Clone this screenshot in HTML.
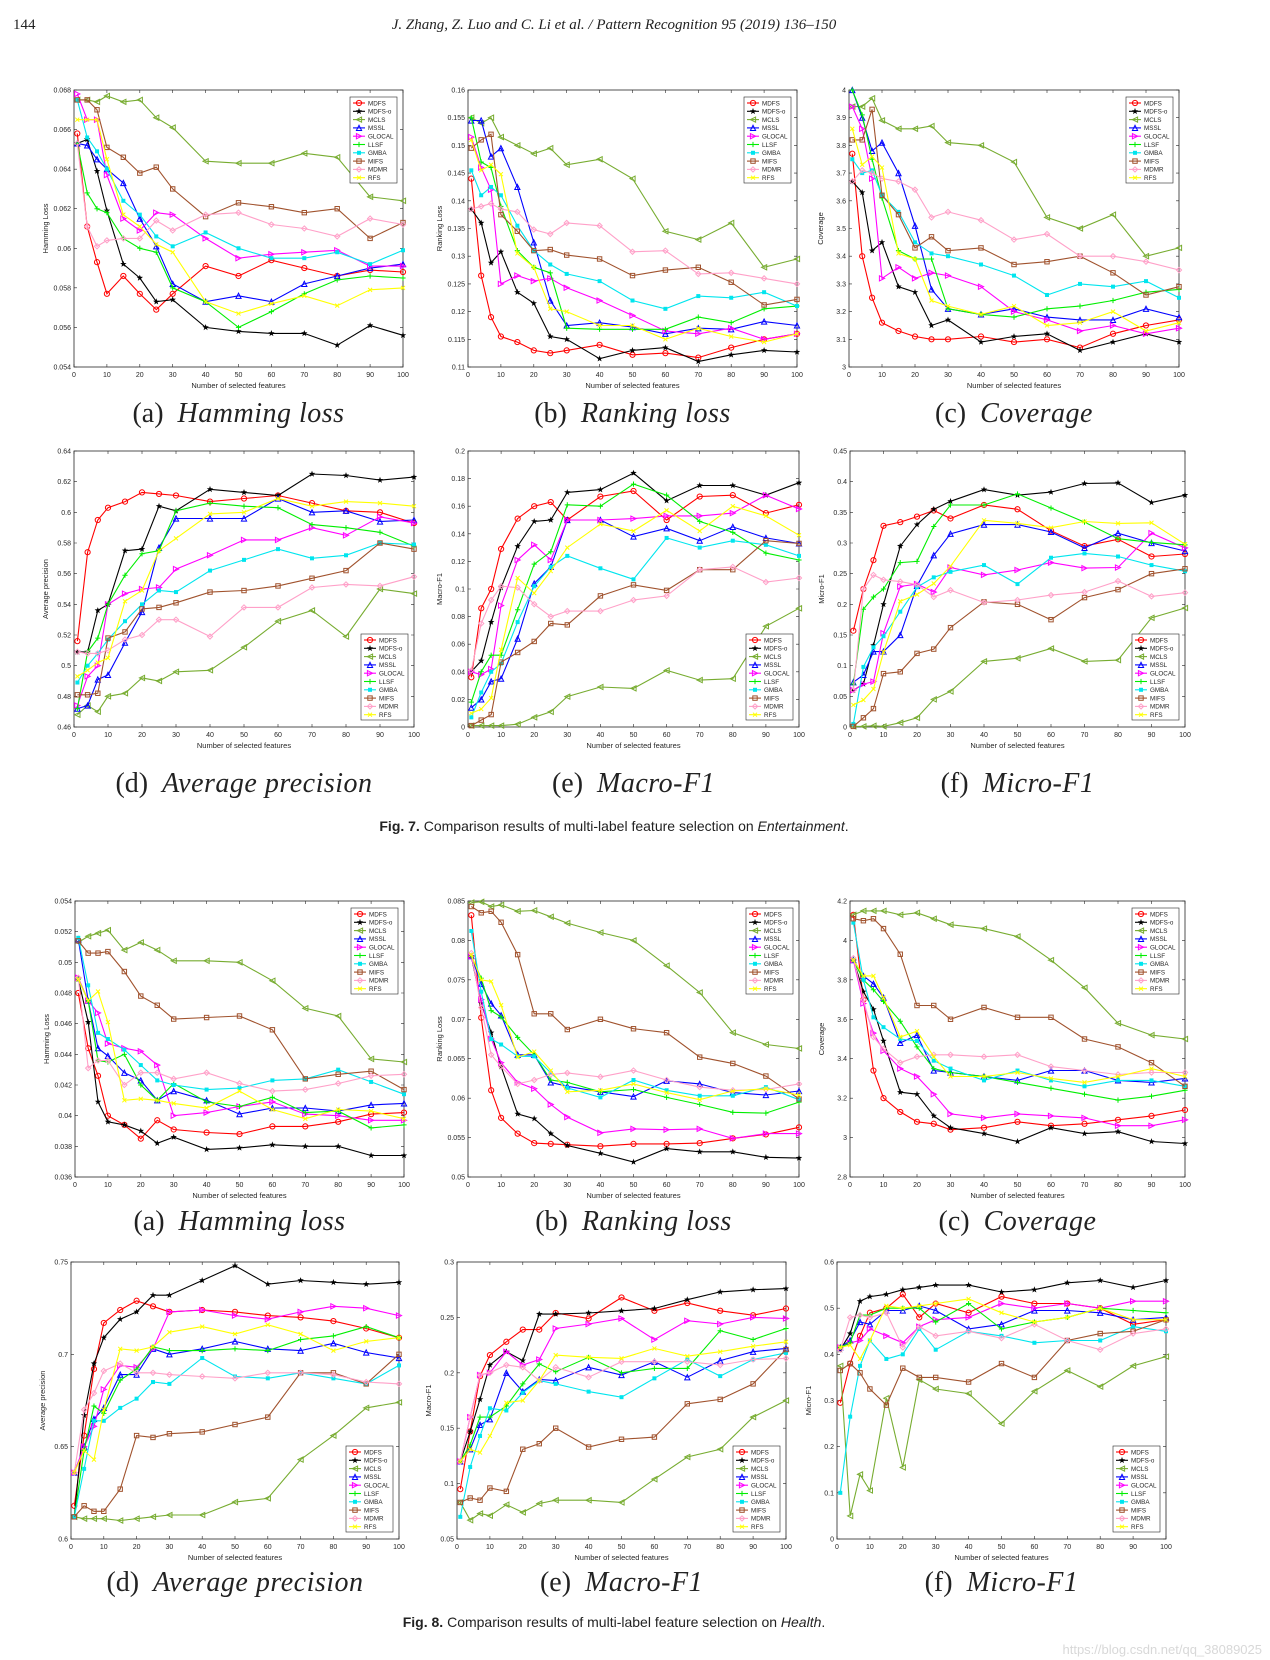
<!DOCTYPE html>
<html><head><meta charset="utf-8"><style>
html,body{margin:0;padding:0;background:#fff;}
svg{display:block;}
</style></head><body>
<svg id="page" width="1270" height="1660" viewBox="0 0 1270 1660" xmlns="http://www.w3.org/2000/svg">
<text x="13" y="29" font-family="Liberation Serif, serif" font-size="15" fill="#222">144</text>
<text x="614" y="29" text-anchor="middle" font-family="Liberation Serif, serif" font-style="italic" font-size="15" fill="#222">J. Zhang, Z. Luo and C. Li et al. / Pattern Recognition 95 (2019) 136–150</text>
<text x="614" y="831" text-anchor="middle" font-family="Liberation Sans, sans-serif" font-size="14" fill="#222"><tspan font-weight="bold">Fig. 7.</tspan>  Comparison results of multi-label feature selection on <tspan font-style="italic">Entertainment</tspan>.</text>
<text x="614" y="1627" text-anchor="middle" font-family="Liberation Sans, sans-serif" font-size="14" fill="#222"><tspan font-weight="bold">Fig. 8.</tspan>  Comparison results of multi-label feature selection on <tspan font-style="italic">Health</tspan>.</text>
<text x="1262" y="1654" text-anchor="end" font-family="Liberation Sans, sans-serif" font-size="13" fill="#d8d8d8">https://blog.csdn.net/qq_38089025</text>
</svg>
<script>
const xValues = [1,4,7,10,15,20,25,30,40,50,60,70,80,90,100];
const xTicks = [0,10,20,30,40,50,60,70,80,90,100];
const seriesNames = ["MDFS","MDFS-o","MCLS","MSSL","GLOCAL","LLSF","GMBA","MIFS","MDMR","RFS"];

const f7aTicks = [0.054,0.056,0.058,0.06,0.062,0.064,0.066,0.068];
const f7a = [
[.0658,.0611,.0593,.0577,.0586,.0577,.0569,.0577,.0591,.0586,.0594,.0590,.0586,.0589,.0588],
[.0653,.0655,.0639,.0619,.0592,.0585,.0573,.0574,.0560,.0558,.0557,.0557,.0551,.0561,.0556],
[.0675,.0675,.0674,.0677,.0674,.0675,.0666,.0661,.0644,.0643,.0643,.0648,.0646,.0626,.0624],
[.0653,.0652,.0645,.0640,.0633,.0615,.0601,.0582,.0573,.0576,.0573,.0582,.0586,.0590,.0592],
[.0678,.0665,.0665,.0637,.0615,.0609,.0618,.0617,.0605,.0595,.0597,.0598,.0599,.0591,.0591],
[.0653,.0628,.0620,.0618,.0605,.0600,.0598,.0580,.0573,.0560,.0568,.0577,.0584,.0586,.0585],
[.0675,.0656,.0649,.0640,.0624,.0617,.0606,.0601,.0608,.0600,.0595,.0595,.0598,.0592,.0599],
[.0675,.0675,.0670,.0651,.0646,.0638,.0641,.0630,.0616,.0623,.0621,.0618,.0620,.0605,.0613],
[.0653,.0611,.0601,.0604,.0605,.0605,.0614,.0609,.0617,.0618,.0612,.0610,.0606,.0615,.0612],
[.0665,.0665,.0665,.0645,.0617,.0611,.0602,.0598,.0573,.0567,.0572,.0576,.0571,.0579,.0580]];

const f7bTicks = [0.11,0.115,0.12,0.125,0.13,0.135,0.14,0.145,0.15,0.155,0.16];
const f7b = [
[.144,.1265,.119,.1155,.1145,.113,.1125,.113,.114,.1122,.1125,.1117,.1135,.115,.116],
[.1385,.136,.1288,.1308,.1235,.1215,.1155,.115,.1115,.113,.1135,.111,.1122,.113,.1127],
[.155,.154,.155,.1515,.150,.1485,.1495,.1465,.1475,.144,.1345,.133,.136,.128,.1295],
[.1545,.1545,.148,.1495,.1425,.1325,.122,.1175,.118,.1172,.116,.117,.1168,.1182,.1175],
[.1515,.146,.142,.125,.1265,.1255,.126,.1243,.122,.1193,.1165,.116,.117,.115,.116],
[.155,.147,.146,.139,.131,.128,.127,.117,.1168,.1168,.1168,.119,.118,.1205,.121],
[.1455,.141,.1425,.141,.1355,.131,.1285,.1268,.1255,.122,.1205,.1228,.1225,.1235,.121],
[.1495,.151,.152,.1375,.1345,.131,.1312,.1302,.1295,.1265,.1275,.128,.1253,.1212,.1222],
[.1385,.139,.1395,.1385,.138,.1348,.134,.136,.1355,.1308,.131,.1268,.127,.126,.125],
[.151,.1455,.1465,.1448,.1305,.128,.1205,.12,.1175,.1175,.115,.117,.1155,.1145,.116]];

const f7cTicks = [3,3.1,3.2,3.3,3.4,3.5,3.6,3.7,3.8,3.9,4];
const f7c = [
[3.77,3.40,3.25,3.16,3.13,3.11,3.10,3.10,3.11,3.09,3.10,3.07,3.12,3.15,3.17],
[3.67,3.63,3.42,3.45,3.29,3.27,3.15,3.17,3.09,3.11,3.12,3.06,3.09,3.12,3.09],
[3.94,3.94,3.97,3.89,3.86,3.86,3.87,3.81,3.80,3.74,3.54,3.50,3.55,3.40,3.43],
[4.00,3.90,3.78,3.81,3.70,3.51,3.28,3.21,3.19,3.21,3.18,3.17,3.17,3.21,3.18],
[3.94,3.86,3.68,3.32,3.36,3.32,3.34,3.33,3.29,3.20,3.17,3.13,3.15,3.12,3.14],
[4.00,3.91,3.75,3.61,3.42,3.39,3.39,3.21,3.19,3.18,3.21,3.22,3.24,3.27,3.28],
[3.75,3.70,3.71,3.62,3.56,3.45,3.41,3.40,3.37,3.33,3.26,3.30,3.29,3.31,3.25],
[3.82,3.82,3.93,3.62,3.55,3.43,3.47,3.42,3.43,3.37,3.38,3.40,3.34,3.26,3.29],
[3.67,3.71,3.70,3.68,3.67,3.64,3.54,3.56,3.53,3.46,3.48,3.40,3.40,3.38,3.35],
[3.86,3.73,3.76,3.72,3.41,3.39,3.24,3.22,3.19,3.22,3.15,3.16,3.20,3.13,3.16]];

const f7dTicks = [0.46,0.48,0.5,0.52,0.54,0.56,0.58,0.6,0.62,0.64];
const f7d = [
[.516,.574,.595,.603,.607,.613,.612,.611,.607,.609,.611,.606,.601,.600,.593],
[.509,.509,.536,.540,.575,.576,.604,.601,.615,.613,.611,.625,.624,.621,.623],
[.468,.474,.470,.480,.482,.492,.490,.496,.497,.512,.529,.536,.519,.550,.547],
[.472,.474,.491,.494,.515,.535,.577,.596,.596,.596,.609,.600,.601,.594,.595],
[.474,.493,.500,.540,.547,.550,.551,.563,.572,.582,.582,.590,.585,.597,.593],
[.472,.509,.518,.540,.559,.573,.575,.601,.606,.604,.603,.592,.590,.587,.578],
[.489,.500,.508,.517,.529,.540,.549,.548,.562,.569,.576,.570,.572,.580,.579],
[.481,.481,.482,.518,.522,.537,.538,.541,.548,.549,.552,.557,.562,.580,.576],
[.509,.508,.508,.510,.517,.520,.530,.530,.519,.538,.538,.551,.553,.552,.558],
[.493,.497,.502,.505,.542,.549,.575,.583,.599,.600,.609,.604,.607,.606,.604]];

const f7eTicks = [0,0.02,0.04,0.06,0.08,0.1,0.12,0.14,0.16,0.18,0.2];
const f7e = [
[.036,.086,.100,.129,.151,.160,.163,.150,.167,.171,.150,.167,.168,.155,.161],
[.040,.048,.076,.101,.131,.149,.150,.170,.172,.184,.164,.175,.175,.168,.177],
[.001,.001,.001,.001,.002,.007,.011,.022,.029,.028,.041,.034,.035,.073,.086],
[.014,.020,.033,.035,.064,.104,.116,.150,.150,.138,.144,.135,.145,.137,.133],
[.040,.038,.042,.088,.121,.132,.121,.150,.150,.151,.153,.153,.155,.168,.158],
[.018,.040,.052,.052,.085,.118,.127,.161,.160,.176,.168,.149,.141,.126,.121],
[.007,.025,.040,.046,.076,.102,.116,.124,.115,.107,.137,.130,.135,.132,.124],
[.001,.005,.009,.047,.054,.062,.075,.074,.095,.103,.099,.114,.114,.135,.133],
[.041,.075,.092,.102,.101,.089,.080,.084,.084,.092,.095,.114,.116,.105,.108],
[.010,.013,.021,.056,.108,.097,.113,.130,.147,.142,.157,.142,.160,.153,.139]];

const f7fTicks = [0,0.05,0.1,0.15,0.2,0.25,0.3,0.35,0.4,0.45];
const f7f = [
[.157,.225,.272,.328,.334,.343,.353,.340,.362,.355,.320,.295,.306,.278,.282],
[.06,.07,.133,.20,.295,.330,.355,.368,.387,.378,.383,.397,.398,.366,.378],
[.001,.001,.002,.001,.007,.015,.045,.058,.107,.112,.128,.107,.109,.178,.194],
[.073,.085,.123,.123,.150,.230,.280,.315,.330,.330,.318,.292,.316,.300,.287],
[.06,.07,.074,.153,.229,.233,.220,.260,.248,.256,.268,.259,.260,.316,.292],
[.07,.192,.212,.225,.268,.270,.327,.362,.362,.380,.357,.334,.307,.301,.297],
[.005,.098,.13,.148,.188,.228,.244,.253,.264,.233,.276,.283,.278,.264,.254],
[.001,.015,.03,.087,.09,.12,.127,.162,.204,.200,.175,.211,.224,.250,.258],
[.06,.225,.248,.24,.237,.232,.212,.223,.203,.207,.215,.220,.238,.213,.219],
[.036,.044,.062,.122,.205,.216,.234,.262,.337,.332,.325,.335,.332,.333,.298]];

const f8aTicks = [0.036,0.038,0.04,0.042,0.044,0.046,0.048,0.05,0.052,0.054];
const f8a = [
[.0480,.0444,.0426,.0400,.0394,.0385,.0397,.0391,.0389,.0388,.0393,.0393,.0396,.0401,.0402],
[.0489,.0461,.0409,.0396,.0394,.0390,.0382,.0386,.0378,.0379,.0381,.0380,.0380,.0374,.0374],
[.0513,.0517,.0519,.0521,.0508,.0513,.0508,.0501,.0501,.0500,.0488,.0470,.0465,.0437,.0435],
[.0515,.0475,.0444,.0439,.0428,.0423,.0410,.0416,.0410,.0401,.0405,.0405,.0403,.0407,.0408],
[.0490,.0475,.0467,.0447,.0444,.0442,.0433,.0400,.0402,.0406,.0409,.0401,.0400,.0397,.0397],
[.0489,.0475,.0436,.0435,.0440,.0420,.0410,.0421,.0409,.0406,.0412,.0402,.0403,.0392,.0394],
[.0516,.0485,.0454,.0450,.0443,.0433,.0423,.0420,.0417,.0418,.0423,.0424,.0430,.0422,.0414],
[.0514,.0506,.0506,.0507,.0494,.0478,.0472,.0463,.0464,.0465,.0456,.0424,.0427,.0429,.0417],
[.0490,.0431,.0436,.0436,.0420,.0428,.0428,.0424,.0428,.0421,.0416,.0417,.0421,.0426,.0427],
[.0489,.0475,.0481,.0461,.0410,.0411,.0410,.0408,.0405,.0416,.0404,.0398,.0404,.0403,.0398]];

const f8bTicks = [0.05,0.055,0.06,0.065,0.07,0.075,0.08,0.085];
const f8b = [
[.0832,.0702,.0610,.0575,.0555,.0543,.0542,.0541,.0539,.0542,.0542,.0543,.0549,.0554,.0563],
[.0780,.0720,.0683,.0640,.0580,.0574,.0555,.0540,.0530,.0519,.0536,.0532,.0532,.0525,.0524],
[.0848,.0849,.0843,.0845,.0837,.0838,.0830,.0822,.0810,.0800,.0768,.0734,.0683,.0668,.0663],
[.0780,.0745,.0720,.0705,.0655,.0655,.0620,.0615,.0608,.0602,.0622,.0618,.0607,.0604,.0609],
[.0780,.0725,.0675,.0645,.0620,.0612,.0592,.0576,.0556,.0561,.0560,.0561,.0549,.0555,.0555],
[.0780,.0752,.0711,.0703,.0677,.0655,.0623,.0620,.0608,.0611,.0601,.0592,.0582,.0581,.0595],
[.0812,.0735,.0675,.0668,.0653,.0653,.0632,.0613,.0601,.0623,.0610,.0603,.0603,.0614,.0598],
[.0843,.0835,.0837,.0823,.0782,.0707,.0707,.0687,.0700,.0688,.0683,.0652,.0644,.0628,.0599],
[.0784,.0715,.0655,.0640,.0618,.0623,.0630,.0632,.0627,.0635,.0623,.0614,.0610,.0611,.0618],
[.0782,.0750,.0748,.0718,.0652,.0659,.0635,.0608,.0610,.0618,.0607,.0598,.0609,.0612,.0604]];

const f8cTicks = [2.8,3,3.2,3.4,3.6,3.8,4,4.2];
const f8c = [
[4.13,3.70,3.34,3.20,3.13,3.08,3.07,3.04,3.05,3.08,3.06,3.07,3.09,3.11,3.14],
[3.90,3.74,3.65,3.49,3.23,3.22,3.11,3.05,3.02,2.98,3.05,3.02,3.03,2.98,2.97],
[4.13,4.15,4.15,4.15,4.13,4.14,4.11,4.08,4.06,4.02,3.90,3.76,3.58,3.52,3.50],
[3.90,3.82,3.78,3.71,3.48,3.52,3.34,3.33,3.31,3.29,3.34,3.34,3.29,3.28,3.30],
[3.90,3.68,3.53,3.44,3.35,3.31,3.22,3.12,3.10,3.12,3.11,3.10,3.06,3.06,3.09],
[3.90,3.80,3.75,3.69,3.59,3.46,3.35,3.33,3.31,3.28,3.25,3.22,3.19,3.21,3.24],
[4.09,3.80,3.61,3.56,3.50,3.49,3.39,3.35,3.29,3.34,3.29,3.26,3.29,3.29,3.26],
[4.11,4.10,4.11,4.06,3.93,3.67,3.67,3.60,3.66,3.61,3.61,3.50,3.46,3.38,3.26],
[3.91,3.70,3.51,3.45,3.38,3.41,3.42,3.42,3.41,3.42,3.36,3.34,3.32,3.33,3.33],
[3.90,3.82,3.82,3.71,3.51,3.54,3.41,3.31,3.31,3.33,3.30,3.28,3.31,3.35,3.31]];

const f8dTicks = [0.6,0.65,0.7,0.75];
const f8d = [
[.618,.656,.692,.717,.724,.729,.726,.723,.724,.723,.721,.720,.718,.714,.709],
[.612,.667,.695,.709,.719,.723,.732,.732,.740,.748,.738,.740,.739,.738,.739],
[.612,.611,.611,.611,.610,.611,.612,.613,.613,.620,.622,.643,.656,.671,.674],
[.636,.650,.665,.671,.689,.689,.703,.700,.703,.707,.703,.702,.706,.701,.698],
[.636,.650,.661,.681,.694,.693,.703,.723,.724,.721,.719,.723,.726,.725,.721],
[.612,.648,.672,.668,.686,.692,.704,.702,.702,.703,.702,.708,.710,.715,.709],
[.612,.638,.664,.664,.671,.676,.685,.684,.698,.688,.687,.690,.687,.684,.694],
[.612,.618,.615,.615,.627,.656,.655,.657,.658,.662,.666,.690,.690,.684,.700],
[.636,.670,.679,.691,.695,.690,.690,.689,.688,.687,.690,.690,.689,.685,.684],
[.636,.648,.643,.670,.703,.702,.704,.712,.715,.711,.716,.711,.702,.707,.709]];

const f8eTicks = [0.05,0.1,0.15,0.2,0.25,0.3];
const f8e = [
[.095,.147,.197,.216,.228,.239,.239,.254,.249,.268,.256,.263,.256,.252,.258],
[.120,.147,.176,.207,.219,.211,.253,.253,.254,.256,.258,.266,.273,.275,.276],
[.083,.067,.073,.071,.081,.074,.082,.085,.085,.083,.104,.124,.131,.160,.175],
[.120,.131,.153,.158,.200,.183,.194,.193,.205,.198,.210,.196,.211,.219,.222],
[.120,.160,.198,.200,.219,.207,.212,.240,.244,.249,.230,.247,.244,.250,.249],
[.120,.135,.160,.160,.170,.190,.208,.201,.214,.200,.204,.204,.238,.230,.240],
[.070,.115,.143,.168,.166,.182,.193,.190,.183,.178,.195,.212,.197,.212,.218],
[.083,.087,.085,.096,.093,.131,.136,.150,.133,.140,.142,.172,.176,.190,.221],
[.120,.160,.198,.200,.207,.205,.193,.205,.196,.210,.210,.210,.207,.212,.213],
[.120,.131,.128,.143,.173,.175,.193,.216,.214,.213,.222,.215,.219,.224,.228]];

const f8fTicks = [0,0.1,0.2,0.3,0.4,0.5,0.6];
const f8f = [
[.295,.38,.44,.49,.50,.53,.48,.51,.49,.525,.51,.51,.50,.465,.475],
[.41,.445,.515,.525,.53,.54,.545,.55,.55,.535,.54,.555,.56,.545,.56],
[.375,.05,.14,.105,.305,.155,.345,.325,.315,.25,.32,.365,.33,.375,.395],
[.415,.43,.47,.465,.495,.495,.505,.495,.455,.465,.495,.495,.49,.475,.48],
[.415,.425,.43,.455,.44,.425,.46,.475,.48,.51,.50,.51,.50,.515,.515],
[.415,.425,.485,.485,.50,.50,.50,.47,.51,.455,.47,.48,.50,.495,.49],
[.10,.265,.375,.43,.39,.40,.455,.41,.45,.44,.425,.43,.43,.46,.45],
[.365,.38,.36,.325,.29,.37,.35,.35,.34,.38,.35,.43,.445,.45,.475],
[.41,.48,.485,.48,.49,.415,.46,.44,.45,.435,.465,.43,.41,.445,.455],
[.415,.42,.39,.43,.505,.50,.505,.51,.52,.49,.47,.48,.50,.475,.475]];

const NS = "http://www.w3.org/2000/svg";
const svg = document.getElementById("page");
const colors = ["#ff0000","#000000","#77ac30","#0000ff","#ff00ff","#00ee00","#00e5ee","#a0522d","#ffa0c8","#ffff00"];
const markers = ["o","star","tl","tu","tr","plus","sq","sqo","dia","x"];

function mk(tag, attrs, parent){
  const e = document.createElementNS(NS, tag);
  for (const k in attrs) e.setAttribute(k, attrs[k]);
  (parent||svg).appendChild(e);
  return e;
}
function fmt(v){ return String(+v.toFixed(4)); }
function marker(g, type, cx, cy, col){
  const r = 2.6;
  let e;
  if (type==="o") e = mk("circle",{cx,cy,r,fill:"none",stroke:col,"stroke-width":1},g);
  else if (type==="star"){
    let p=[];for(let i=0;i<10;i++){const a=-Math.PI/2+i*Math.PI/5;const rr=i%2?1.4:3.4;p.push((cx+rr*Math.cos(a)).toFixed(1)+","+(cy+rr*Math.sin(a)).toFixed(1));}
    e = mk("polygon",{points:p.join(" "),fill:col},g);
  } else if (type==="tl") e = mk("polygon",{points:`${cx-r},${cy} ${cx+r},${cy-r} ${cx+r},${cy+r}`,fill:"none",stroke:col,"stroke-width":1},g);
  else if (type==="tr") e = mk("polygon",{points:`${cx+r},${cy} ${cx-r},${cy-r} ${cx-r},${cy+r}`,fill:"none",stroke:col,"stroke-width":1},g);
  else if (type==="tu") e = mk("polygon",{points:`${cx},${cy-r} ${cx-r},${cy+r} ${cx+r},${cy+r}`,fill:"none",stroke:col,"stroke-width":1},g);
  else if (type==="plus") e = mk("path",{d:`M${cx-r},${cy}H${cx+r}M${cx},${cy-r}V${cy+r}`,stroke:col,"stroke-width":1},g);
  else if (type==="sq") e = mk("rect",{x:cx-2,y:cy-2,width:4,height:4,fill:col},g);
  else if (type==="sqo") e = mk("rect",{x:cx-2.2,y:cy-2.2,width:4.4,height:4.4,fill:"none",stroke:col,"stroke-width":1},g);
  else if (type==="dia") e = mk("polygon",{points:`${cx},${cy-r} ${cx+r},${cy} ${cx},${cy+r} ${cx-r},${cy}`,fill:"none",stroke:col,"stroke-width":1},g);
  else e = mk("path",{d:`M${cx-2},${cy-2}L${cx+2},${cy+2}M${cx-2},${cy+2}L${cx+2},${cy-2}`,stroke:col,"stroke-width":1},g);
  return e;
}

function drawChart(id, px, py, pw, ph, ticks, data, ylabel, legendPos, caption, sub){
  const g = mk("g",{});
  
  
  const ymin = ticks[0], ymax = ticks[ticks.length-1];
  const xs = v => px + (v/100)*pw;
  const ys = v => py + ph - (v-ymin)/(ymax-ymin)*ph;
  const frame = mk("rect",{x:px,y:py,width:pw,height:ph,fill:"#fff",stroke:"#262626","stroke-width":0.8},g);
  
  
  xTicks.forEach(t=>{
    const x = xs(t);
    mk("path",{d:`M${x},${py+ph}v-3M${x},${py}v3`,stroke:"#262626","stroke-width":0.6},g);
    const tl = mk("text",{x:x,y:py+ph+10,"text-anchor":"middle","font-family":"Liberation Sans, sans-serif","font-size":7,fill:"#262626"},g);
    tl.textContent = t;
    
    
  });
  ticks.forEach(t=>{
    const y = ys(t);
    mk("path",{d:`M${px},${y}h3M${px+pw},${y}h-3`,stroke:"#262626","stroke-width":0.6},g);
    const tl = mk("text",{x:px-3,y:y+2.5,"text-anchor":"end","font-family":"Liberation Sans, sans-serif","font-size":7,fill:"#262626"},g);
    tl.textContent = fmt(t);
    
    
  });
  const xl = mk("text",{x:px+pw/2,y:py+ph+21,"text-anchor":"middle","font-family":"Liberation Sans, sans-serif","font-size":7.5,fill:"#262626"},g);
  xl.textContent = "Number of selected features";
  
  
  const yl = mk("text",{x:0,y:0,"text-anchor":"middle","font-family":"Liberation Sans, sans-serif","font-size":7.5,fill:"#262626",transform:`translate(${px-26},${py+ph/2}) rotate(-90)`},g);
  yl.textContent = ylabel;
  
  
  data.forEach((vals,si)=>{
    const sg = mk("g",{},g);
    
    
    const pts = vals.map((v,i)=>xs(xValues[i]).toFixed(1)+","+ys(v).toFixed(1)).join(" ");
    const line = mk("polyline",{points:pts,fill:"none",stroke:colors[si],"stroke-width":1.1},sg);
    
    
    vals.forEach((v,i)=>{
      const m = marker(sg, markers[si], xs(xValues[i]), ys(v), colors[si]);
      
      
    });
  });
  const lw = 47, lh = 86;
  const lx = px + pw - lw - 6;
  const ly = legendPos==="top" ? py + 7 : py + ph - lh - 7;
  const lg = mk("g",{},g);
  
  
  mk("rect",{x:lx,y:ly,width:lw,height:lh,fill:"#fff",stroke:"#262626","stroke-width":0.6},lg);
  seriesNames.forEach((n,i)=>{
    const ey = ly + 6 + i*8.3;
    const eg = mk("g",{},lg);
    
    
    mk("path",{d:`M${lx+3},${ey}h12`,stroke:colors[i],"stroke-width":1.1},eg);
    marker(eg, markers[i], lx+9, ey, colors[i]);
    const t = mk("text",{x:lx+18,y:ey+2.3,"font-family":"Liberation Sans, sans-serif","font-size":6.3,fill:"#262626"},eg);
    t.textContent = n;
  });
  const c = mk("text",{x:px+pw/2,y:caption,"text-anchor":"middle","font-family":"Liberation Serif, serif","font-size":28,fill:"#222"});
  
  
  const t1 = mk("tspan",{},c); t1.textContent = sub[0] + "\u2002";
  const t2 = mk("tspan",{"font-style":"italic","letter-spacing":"0.5"},c); t2.textContent = sub[1];
}

drawChart("fig7-a",74,90,329,277,f7aTicks,f7a,"Hamming Loss","top",422,["(a)","Hamming loss"]);
drawChart("fig7-b",468,90,329,277,f7bTicks,f7b,"Ranking Loss","top",422,["(b)","Ranking loss"]);
drawChart("fig7-c",849,90,330,277,f7cTicks,f7c,"Coverage","top",422,["(c)","Coverage"]);
drawChart("fig7-d",74,451,340,276,f7dTicks,f7d,"Average precision","bottom",792,["(d)","Average precision"]);
drawChart("fig7-e",468,451,331,276,f7eTicks,f7e,"Macro-F1","bottom",792,["(e)","Macro-F1"]);
drawChart("fig7-f",850,451,335,276,f7fTicks,f7f,"Micro-F1","bottom",792,["(f)","Micro-F1"]);
drawChart("fig8-a",75,901,329,276,f8aTicks,f8a,"Hamming Loss","top",1230,["(a)","Hamming loss"]);
drawChart("fig8-b",468,901,331,276,f8bTicks,f8b,"Ranking Loss","top",1230,["(b)","Ranking loss"]);
drawChart("fig8-c",850,901,335,276,f8cTicks,f8c,"Coverage","top",1230,["(c)","Coverage"]);
drawChart("fig8-d",71,1262,328,277,f8dTicks,f8d,"Average precision","bottom",1591,["(d)","Average precision"]);
drawChart("fig8-e",457,1262,329,277,f8eTicks,f8e,"Macro-F1","bottom",1591,["(e)","Macro-F1"]);
drawChart("fig8-f",837,1262,329,277,f8fTicks,f8f,"Micro-F1","bottom",1591,["(f)","Micro-F1"]);
</script>
</body></html>
